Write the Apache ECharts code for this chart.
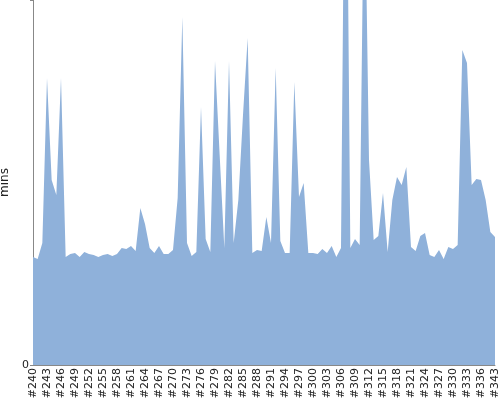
<!DOCTYPE html>
<html>
<head>
<meta charset="utf-8">
<script src="https://cdn.jsdelivr.net/npm/echarts@6/dist/echarts.min.js"></script>
<style>html,body{margin:0;padding:0;background:#fff}#c{width:500px;height:400px}</style>
</head>
<body>
<div id="c"></div>
<script>
var categories = [];
for (var n = 240; n <= 336; n++) categories.push('#' + n);
categories.push('#338', '#340', '#343');

var minutes = [
  10.8, 10.6, 12.2, 28.7, 18.5, 17.0, 28.7, 10.8, 11.1, 11.2,
  10.8, 11.3, 11.1, 11.0, 10.8, 11.0, 11.1, 10.9, 11.1, 11.7,
  11.6, 11.9, 11.4, 15.7, 14.1, 11.7, 11.2, 11.9, 11.1, 11.1,
  11.5, 16.7, 34.8, 12.2, 10.9, 11.3, 25.8, 12.6, 11.3, 30.4,
  21.0, 11.7, 30.4, 12.2, 16.5, 25.0, 32.7, 11.2, 11.5, 11.4,
  14.8, 12.2, 29.7, 12.4, 11.2, 11.2, 28.3, 16.8, 18.2, 11.2,
  11.2, 11.1, 11.6, 11.2, 11.9, 10.8, 11.7, 66.0, 11.7, 12.6,
  12.0, 52.0, 20.5, 12.5, 12.9, 17.2, 11.3, 16.5, 18.8, 18.0,
  19.8, 11.8, 11.4, 12.9, 13.2, 11.0, 10.8, 11.5, 10.6, 11.8,
  11.6, 12.0, 31.5, 30.2, 18.0, 18.6, 18.5, 16.5, 13.3, 12.8
];

var yMax = 36.5;
var yTickLabels = ['0'];

var chart = echarts.init(document.getElementById('c'), null, {renderer: 'canvas'});
chart.setOption({
  animation: false,
  grid: {left: 33, right: 5, top: 0, bottom: 35, containLabel: false, outerBoundsMode: 'none'},
  xAxis: {
    type: 'category',
    data: categories,
    boundaryGap: false,
    axisLine: {lineStyle: {color: '#888', width: 1}},
    axisTick: {show: false},
    axisLabel: {
      interval: 2,
      rotate: 90,
      fontFamily: 'DejaVu Sans',
      fontSize: 11,
      color: '#222',
      margin: 3
    },
    splitLine: {show: false}
  },
  yAxis: {
    type: 'value',
    min: 0,
    max: yMax,
    interval: yMax,
    name: 'mins',
    nameLocation: 'middle',
    nameGap: 21,
    nameTextStyle: {fontFamily: 'DejaVu Sans', fontSize: 12, color: '#222'},
    axisLine: {show: true, lineStyle: {color: '#888', width: 1}},
    axisTick: {show: true, length: 3, lineStyle: {color: '#888'}},
    axisLabel: {
      fontFamily: 'DejaVu Sans',
      fontSize: 11,
      color: '#222',
      margin: 4,
      formatter: function (v) { return v === 0 ? yTickLabels[0] : ''; }
    },
    splitLine: {show: false}
  },
  series: [{
    type: 'line',
    data: minutes,
    symbol: 'none',
    lineStyle: {width: 0, color: '#8fb1da'},
    areaStyle: {color: '#8fb1da', opacity: 1},
    clip: true
  }]
});
</script>
</body>
</html>
